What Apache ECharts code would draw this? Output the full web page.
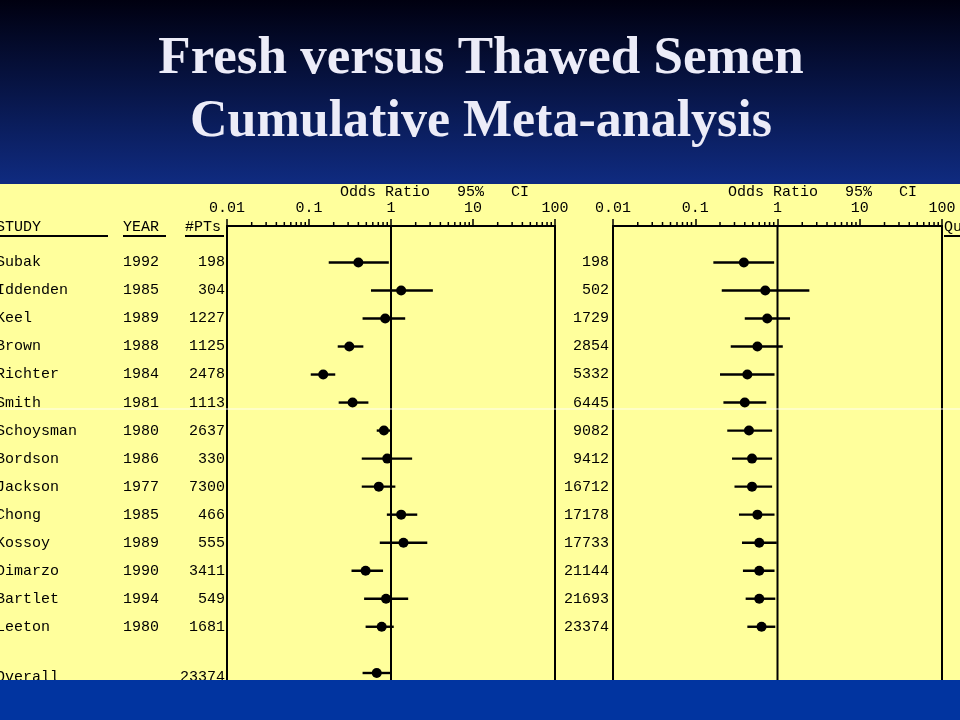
<!DOCTYPE html>
<html>
<head>
<meta charset="utf-8">
<title>Fresh versus Thawed Semen</title>
<script src="https://cdn.jsdelivr.net/npm/echarts@6/dist/echarts.min.js"></script>
<style>
html, body { margin: 0; padding: 0; background: #000; }
#chart { width: 960px; height: 720px; }
</style>
</head>
<body>
<div id="chart"></div>
<script>
// study table
var studies = ['Subak', 'Iddenden', 'Keel', 'Brown', 'Richter', 'Smith', 'Schoysman',
   'Bordson', 'Jackson', 'Chong', 'Kossoy', 'Dimarzo', 'Bartlet', 'Leeton'];
var years = [1992, 1985, 1989, 1988, 1984, 1981, 1980, 1986, 1977, 1985, 1989, 1990, 1994, 1980];
var patients = [198, 304, 1227, 1125, 2478, 1113, 2637, 330, 7300, 466, 555, 3411, 549, 1681];
var cumPatients = [198, 502, 1729, 2854, 5332, 6445, 9082, 9412, 16712, 17178, 17733, 21144, 21693, 23374];

// individual odds ratios with 95% CI (left panel)
var orValue = [0.40, 1.33, 0.85, 0.31, 0.149, 0.34, 0.82, 0.90, 0.71, 1.33, 1.42, 0.49, 0.87, 0.77];
var orLow = [0.174, 0.57, 0.45, 0.224, 0.105, 0.23, 0.67, 0.44, 0.44, 0.89, 0.73, 0.33, 0.47, 0.49];
var orHigh = [0.94, 3.24, 1.49, 0.46, 0.209, 0.53, 0.98, 1.81, 1.13, 2.09, 2.77, 0.80, 1.62, 1.08];
var overallPatients = 23374;
var overallOr = [0.45, 0.98, 0.67]; // low, high, estimate

// cumulative odds ratios with 95% CI (right panel)
var cumOr = [0.39, 0.71, 0.75, 0.57, 0.43, 0.40, 0.45, 0.49, 0.49, 0.57, 0.60, 0.60, 0.60, 0.64];
var cumLow = [0.166, 0.21, 0.40, 0.27, 0.20, 0.22, 0.245, 0.28, 0.30, 0.34, 0.37, 0.38, 0.41, 0.43];
var cumHigh = [0.91, 2.44, 1.42, 1.16, 0.92, 0.73, 0.86, 0.86, 0.86, 0.92, 0.98, 0.92, 0.94, 0.94];

// log axis minor ticks
var minorTicks = [0.02, 0.03, 0.04, 0.05, 0.06, 0.07, 0.08, 0.09,
   0.2, 0.3, 0.4, 0.5, 0.6, 0.7, 0.8, 0.9,
   2, 3, 4, 5, 6, 7, 8, 9,
   20, 30, 40, 50, 60, 70, 80, 90];

var ROW_MIN = -1.3, ROW_MAX = 14.9, OVERALL_ROW = 14.65;
var MONO = '"Liberation Mono", "DejaVu Sans Mono", monospace';
var rowFont = '15px ' + MONO;

var chart = echarts.init(document.getElementById('chart'));

var leftRows = studies.map(function (s, i) { return [orLow[i], orHigh[i], orValue[i], i]; });
leftRows.push([overallOr[0], overallOr[1], overallOr[2], OVERALL_ROW]);
var rightRows = studies.map(function (s, i) { return [cumLow[i], cumHigh[i], cumOr[i], i]; });

var tableNames = studies.concat(['Overall']);
var tableYears = years.map(String).concat(['']);
var tablePts = patients.map(String).concat([String(overallPatients)]);

function renderCI(params, api) {
   var row = api.value(3);
   var a = api.coord([api.value(0), row]);
   var b = api.coord([api.value(1), row]);
   var p = api.coord([api.value(2), row]);
   return {
      type: 'group',
      children: [
         { type: 'line', shape: { x1: a[0], y1: a[1], x2: b[0], y2: b[1] }, style: { stroke: '#000', lineWidth: 2.4 } },
         { type: 'circle', shape: { cx: p[0], cy: p[1], r: 5 }, style: { fill: '#000' } }
      ]
   };
}

function renderMinor(params, api) {
   var p = api.coord([api.value(0), ROW_MIN]);
   return { type: 'line', shape: { x1: p[0], y1: p[1], x2: p[0], y2: p[1] - 4 }, style: { stroke: '#000', lineWidth: 1.5 } };
}

function renderLeftTable(params, api) {
   var i = params.dataIndex;
   var y = api.coord([1, api.value(1)])[1];
   var st = function (t, align) {
      return { text: t, font: rowFont, fill: '#000', verticalAlign: 'middle', align: align || 'left' };
   };
   return {
      type: 'group',
      children: [
         { type: 'text', x: -4, y: y, style: st(tableNames[i]) },
         { type: 'text', x: 123, y: y, style: st(tableYears[i]) },
         { type: 'text', x: 225, y: y, style: st(tablePts[i], 'right') }
      ]
   };
}

function renderRightTable(params, api) {
   var i = params.dataIndex;
   var y = api.coord([1, api.value(1)])[1];
   return {
      type: 'text', x: 609, y: y,
      style: { text: String(cumPatients[i]), font: rowFont, fill: '#000', verticalAlign: 'middle', align: 'right' }
   };
}

function xAxisFor(gridIndex) {
   return {
      type: 'log', logBase: 10, min: 0.01, max: 100, gridIndex: gridIndex, position: 'top',
      axisLine: { onZero: false, lineStyle: { color: '#000', width: 2 } },
      axisTick: { length: 7, lineStyle: { color: '#000', width: 1.5 } },
      axisLabel: {
         color: '#000', fontFamily: MONO, fontSize: 15, margin: 10,
         showMinLabel: true, showMaxLabel: true,
         formatter: function (v) { return String(+Number(v).toPrecision(1)); }
      },
      splitLine: { show: false }
   };
}

function yAxisFor(gridIndex, pos) {
   return {
      type: 'value', gridIndex: gridIndex, position: pos, inverse: true, min: ROW_MIN, max: ROW_MAX,
      axisLine: { show: true, onZero: false, lineStyle: { color: '#000', width: 2 } },
      axisTick: { show: false }, axisLabel: { show: false }, splitLine: { show: false }
   };
}

function headerText(x, y, t, align) {
   return {
      type: 'text', x: x, y: y, z: 5,
      style: { text: t, font: '15px ' + MONO, fill: '#000', align: align || 'left', verticalAlign: 'middle' }
   };
}

function rule(x1, y1, x2, y2, color, w, z) {
   return { type: 'line', z: z || 5, shape: { x1: x1, y1: y1, x2: x2, y2: y2 }, style: { stroke: color, lineWidth: w } };
}

function titleStyle(t, size) {
   return {
      text: t, font: 'bold ' + size + 'px "Liberation Serif", "DejaVu Serif", serif', fill: '#ececf8',
      align: 'center', verticalAlign: 'middle',
      shadowColor: 'rgba(0,0,0,0.85)', shadowOffsetX: 3, shadowOffsetY: 3, shadowBlur: 2
   };
}

var option = {
   animation: false,
   grid: [
      { left: 227, top: 226, width: 328, height: 454 },
      { left: 613, top: 226, width: 329, height: 454 }
   ],
   xAxis: [xAxisFor(0), xAxisFor(1)],
   yAxis: [yAxisFor(0, 'left'), yAxisFor(0, 'right'), yAxisFor(1, 'left'), yAxisFor(1, 'right')],
   graphic: [
      {
         type: 'rect', z: -10, shape: { x: 0, y: 0, width: 960, height: 720 },
         style: {
            fill: new echarts.graphic.LinearGradient(0, 0, 0, 1, [
               { offset: 0, color: '#000010' },
               { offset: 0.25, color: '#0f2a7e' },
               { offset: 1, color: '#0134a0' }
            ])
         }
      },
      { type: 'rect', z: -9, shape: { x: 0, y: 184, width: 960, height: 496 }, style: { fill: '#ffff9c' } },
      { type: 'rect', z: 100, shape: { x: 0, y: 680, width: 960, height: 40 }, style: { fill: '#0134a0' } },
      { type: 'text', x: 481, y: 59, z: 10, style: titleStyle('Fresh versus Thawed Semen', 53) },
      { type: 'text', x: 481, y: 123, z: 10, style: titleStyle('Cumulative Meta-analysis', 52) },
      headerText(-4, 227, 'STUDY'),
      rule(0, 236, 108, 236, '#000', 2),
      headerText(123, 227, 'YEAR'),
      rule(123, 236, 166, 236, '#000', 2),
      headerText(185, 227, '#PTs'),
      rule(185, 236, 224, 236, '#000', 2),
      headerText(340, 192, 'Odds Ratio   95%   CI'),
      headerText(728, 192, 'Odds Ratio   95%   CI'),
      headerText(944, 227, 'Qu'),
      rule(944, 236, 960, 236, '#000', 2),
      rule(0, 409, 960, 409, 'rgba(255,255,255,0.85)', 1.2, 50)
   ],
   series: [
      {
         type: 'line', xAxisIndex: 0, yAxisIndex: 0, symbol: 'none', silent: true,
         lineStyle: { color: '#000', width: 2 }, data: [[1, ROW_MIN], [1, ROW_MAX]]
      },
      {
         type: 'line', xAxisIndex: 1, yAxisIndex: 2, symbol: 'none', silent: true,
         lineStyle: { color: '#000', width: 2 }, data: [[1, ROW_MIN], [1, ROW_MAX]]
      },
      {
         type: 'custom', xAxisIndex: 0, yAxisIndex: 0, clip: false, silent: true,
         renderItem: renderMinor, data: minorTicks.map(function (v) { return [v]; })
      },
      {
         type: 'custom', xAxisIndex: 1, yAxisIndex: 2, clip: false, silent: true,
         renderItem: renderMinor, data: minorTicks.map(function (v) { return [v]; })
      },
      {
         name: 'Individual', type: 'custom', xAxisIndex: 0, yAxisIndex: 0, clip: false,
         encode: { x: [0, 1, 2], y: 3 }, renderItem: renderCI, data: leftRows
      },
      {
         name: 'Cumulative', type: 'custom', xAxisIndex: 1, yAxisIndex: 2, clip: false,
         encode: { x: [0, 1, 2], y: 3 }, renderItem: renderCI, data: rightRows
      },
      {
         type: 'custom', xAxisIndex: 0, yAxisIndex: 0, clip: false, silent: true,
         renderItem: renderLeftTable,
         data: tableNames.map(function (s, i) { return [1, i < studies.length ? i : OVERALL_ROW + 0.15]; })
      },
      {
         type: 'custom', xAxisIndex: 1, yAxisIndex: 2, clip: false, silent: true,
         renderItem: renderRightTable,
         data: cumPatients.map(function (n, i) { return [1, i]; })
      }
   ]
};

chart.setOption(option);
</script>
</body>
</html>
